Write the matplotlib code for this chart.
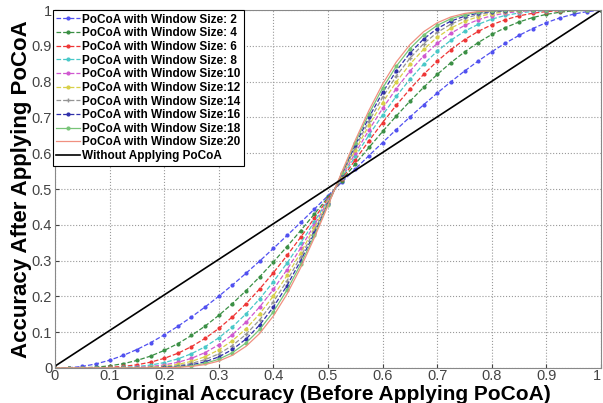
import matplotlib
matplotlib.use("Agg")
import matplotlib.pyplot as plt

plt.rcParams['font.family'] = ['Liberation Sans', 'DejaVu Sans']

# x positions (original accuracy)
x = [0.000, 0.025, 0.050, 0.075, 0.100, 0.125, 0.150, 0.175, 0.200, 0.225,
     0.250, 0.275, 0.300, 0.325, 0.350, 0.375, 0.400, 0.425, 0.450, 0.475,
     0.500, 0.525, 0.550, 0.575, 0.600, 0.625, 0.650, 0.675, 0.700, 0.725,
     0.750, 0.775, 0.800, 0.825, 0.850, 0.875, 0.900, 0.925, 0.950, 0.975,
     1.000]

w2 = [0.0, 0.0005, 0.0041, 0.0112, 0.0216, 0.0351, 0.0515, 0.0706, 0.0923, 0.1163,
      0.1424, 0.1705, 0.2004, 0.2319, 0.2648, 0.2989, 0.3341, 0.3701, 0.4067, 0.4439,
      0.4813, 0.5187, 0.5561, 0.5933, 0.6299, 0.6659, 0.7011, 0.7352, 0.7681, 0.7996,
      0.8295, 0.8576, 0.8837, 0.9077, 0.9294, 0.9485, 0.9649, 0.9784, 0.9888, 0.9959,
      0.9995]
w4 = [0.0, 0.0, 0.0005, 0.0022, 0.0059, 0.0119, 0.0209, 0.0331, 0.0488, 0.0680,
      0.0908, 0.1171, 0.1469, 0.1800, 0.2161, 0.2549, 0.2961, 0.3393, 0.3840, 0.4300,
      0.4766, 0.5234, 0.5700, 0.6160, 0.6607, 0.7039, 0.7451, 0.7839, 0.8200, 0.8531,
      0.8829, 0.9092, 0.9320, 0.9512, 0.9669, 0.9791, 0.9881, 0.9941, 0.9978, 0.9995,
      1.0]
w6 = [0.0, 0.0, 0.0001, 0.0005, 0.0017, 0.0042, 0.0088, 0.0161, 0.0267, 0.0410,
      0.0596, 0.0827, 0.1104, 0.1428, 0.1798, 0.2210, 0.2660, 0.3143, 0.3654, 0.4184,
      0.4727, 0.5273, 0.5816, 0.6346, 0.6857, 0.7340, 0.7790, 0.8202, 0.8572, 0.8896,
      0.9173, 0.9404, 0.9590, 0.9733, 0.9839, 0.9912, 0.9958, 0.9983, 0.9995, 0.9999,
      1.0]
w8 = [0.0, 0.0, 0.0, 0.0001, 0.0005, 0.0015, 0.0038, 0.0080, 0.0149, 0.0252,
      0.0398, 0.0593, 0.0842, 0.1149, 0.1513, 0.1935, 0.2410, 0.2932, 0.3494, 0.4084,
      0.4693, 0.5307, 0.5916, 0.6506, 0.7068, 0.7590, 0.8065, 0.8487, 0.8851, 0.9158,
      0.9407, 0.9602, 0.9748, 0.9851, 0.9920, 0.9962, 0.9985, 0.9995, 0.9999, 1.0,
      1.0]
w10 = [0.0, 0.0, 0.0, 0.0, 0.0001, 0.0006, 0.0017, 0.0040, 0.0084, 0.0157,
       0.0269, 0.0430, 0.0649, 0.0932, 0.1284, 0.1707, 0.2196, 0.2748, 0.3351, 0.3994,
       0.4662, 0.5338, 0.6006, 0.6649, 0.7252, 0.7804, 0.8293, 0.8716, 0.9068, 0.9351,
       0.9570, 0.9731, 0.9843, 0.9916, 0.9960, 0.9983, 0.9994, 0.9999, 1.0, 1.0,
       1.0]
w12 = [0.0, 0.0, 0.0, 0.0, 0.0, 0.0002, 0.0007, 0.0021, 0.0048, 0.0099,
       0.0184, 0.0315, 0.0504, 0.0762, 0.1097, 0.1513, 0.2011, 0.2584, 0.3223, 0.3913,
       0.4634, 0.5366, 0.6087, 0.6777, 0.7416, 0.7989, 0.8487, 0.8903, 0.9238, 0.9496,
       0.9685, 0.9816, 0.9901, 0.9952, 0.9979, 0.9993, 0.9998, 1.0, 1.0, 1.0,
       1.0]
w14 = [0.0, 0.0, 0.0, 0.0, 0.0, 0.0001, 0.0003, 0.0011, 0.0028, 0.0063,
       0.0126, 0.0232, 0.0394, 0.0626, 0.0941, 0.1347, 0.1847, 0.2437, 0.3106, 0.3837,
       0.4608, 0.5392, 0.6163, 0.6894, 0.7563, 0.8153, 0.8653, 0.9059, 0.9374, 0.9606,
       0.9768, 0.9874, 0.9937, 0.9972, 0.9989, 0.9997, 0.9999, 1.0, 1.0, 1.0,
       1.0]
w16 = [0.0, 0.0, 0.0, 0.0, 0.0, 0.0, 0.0002, 0.0005, 0.0016, 0.0040,
       0.0087, 0.0172, 0.0309, 0.0516, 0.0810, 0.1203, 0.1701, 0.2303, 0.2998, 0.3767,
       0.4583, 0.5417, 0.6233, 0.7002, 0.7697, 0.8299, 0.8797, 0.9190, 0.9484, 0.9691,
       0.9828, 0.9913, 0.9960, 0.9984, 0.9995, 0.9998, 1.0, 1.0, 1.0, 1.0,
       1.0]
w18 = [0.0, 0.0, 0.0, 0.0, 0.0, 0.0, 0.0001, 0.0003, 0.0009, 0.0026,
       0.0061, 0.0127, 0.0243, 0.0427, 0.0700, 0.1077, 0.1570, 0.2180, 0.2897, 0.3701,
       0.4560, 0.5440, 0.6299, 0.7103, 0.7820, 0.8430, 0.8923, 0.9300, 0.9573, 0.9757,
       0.9873, 0.9939, 0.9974, 0.9991, 0.9997, 0.9999, 1.0, 1.0, 1.0, 1.0,
       1.0]
w20 = [0.0, 0.0, 0.0, 0.0, 0.0, 0.0, 0.0, 0.0001, 0.0005, 0.0016,
       0.0042, 0.0095, 0.0192, 0.0355, 0.0606, 0.0967, 0.1452, 0.2067, 0.2803, 0.3638,
       0.4538, 0.5462, 0.6362, 0.7197, 0.7933, 0.8548, 0.9033, 0.9394, 0.9645, 0.9808,
       0.9905, 0.9958, 0.9984, 0.9995, 0.9999, 1.0, 1.0, 1.0, 1.0, 1.0,
       1.0]

baseline_x = [0.0, 1.0]
baseline_y = [0.005, 1.0]

series = [w2, w4, w6, w8, w10, w12, w14, w16, w18, w20]
labels = ['PoCoA with Window Size: 2', 'PoCoA with Window Size: 4',
          'PoCoA with Window Size: 6', 'PoCoA with Window Size: 8',
          'PoCoA with Window Size:10', 'PoCoA with Window Size:12',
          'PoCoA with Window Size:14', 'PoCoA with Window Size:16',
          'PoCoA with Window Size:18', 'PoCoA with Window Size:20']
colors = ['#5050f0', '#3a8f44', '#ee3535', '#48c8c8', '#d058d0',
          '#d8d048', '#949494', '#3030aa', '#78c478', '#f09080']
styles = ['--', '--', '--', '--', '--', '--', '--', '--', '-', '-']
markers = ['.', '.', '.', '.', '.', '.', '+', '.', '.', '']

fig = plt.figure(figsize=(6.03, 4.03), dpi=100)
ax = fig.add_axes([0.0912, 0.087, 0.9055, 0.888])

for ys, lab, c, ls, mk in zip(series, labels, colors, styles, markers):
    ax.plot(x, ys, linestyle=ls, color=c, marker=mk,
            markersize=4 if mk == '.' else 3, linewidth=0.9, label=lab)
ax.plot(baseline_x, baseline_y, '-', color='black', linewidth=1.2,
        label='Without Applying PoCoA')

ax.set_xlim(0, 1)
ax.set_ylim(0, 1)
ticks = [0, 0.1, 0.2, 0.3, 0.4, 0.5, 0.6, 0.7, 0.8, 0.9, 1]
tick_labels = ['0', '0.1', '0.2', '0.3', '0.4', '0.5', '0.6', '0.7', '0.8', '0.9', '1']
ax.set_xticks(ticks)
ax.set_xticklabels(tick_labels)
ax.set_yticks(ticks)
ax.set_yticklabels(tick_labels)
ax.tick_params(direction='in', length=3, labelsize=10.5, colors='#444444', pad=2)
ax.tick_params(axis='x', pad=1)
ax.get_xticklabels()[-1].set_horizontalalignment('right')
ax.grid(True, linestyle=':', color='#999999', linewidth=0.8)
for sp in ax.spines.values():
    sp.set_color('#888888')
    sp.set_linewidth(0.8)

ax.set_xlabel('Original Accuracy (Before Applying PoCoA)', fontsize=15,
              fontweight='bold')
ax.xaxis.set_label_coords(0.51, -0.048)
ax.set_ylabel('Accuracy After Applying PoCoA', fontsize=16,
              fontweight='bold', labelpad=0)

leg = ax.legend(loc='upper left', bbox_to_anchor=(-0.004, 1.0), borderaxespad=0,
                prop={'size': 8.5, 'weight': 'bold'}, frameon=True, fancybox=False,
                handlelength=2.0, handletextpad=0.15, labelspacing=0.14,
                borderpad=0.3)
leg.get_frame().set_edgecolor('black')
leg.get_frame().set_linewidth(0.8)
leg.get_frame().set_alpha(1)

fig.savefig('out.png', dpi=100)
